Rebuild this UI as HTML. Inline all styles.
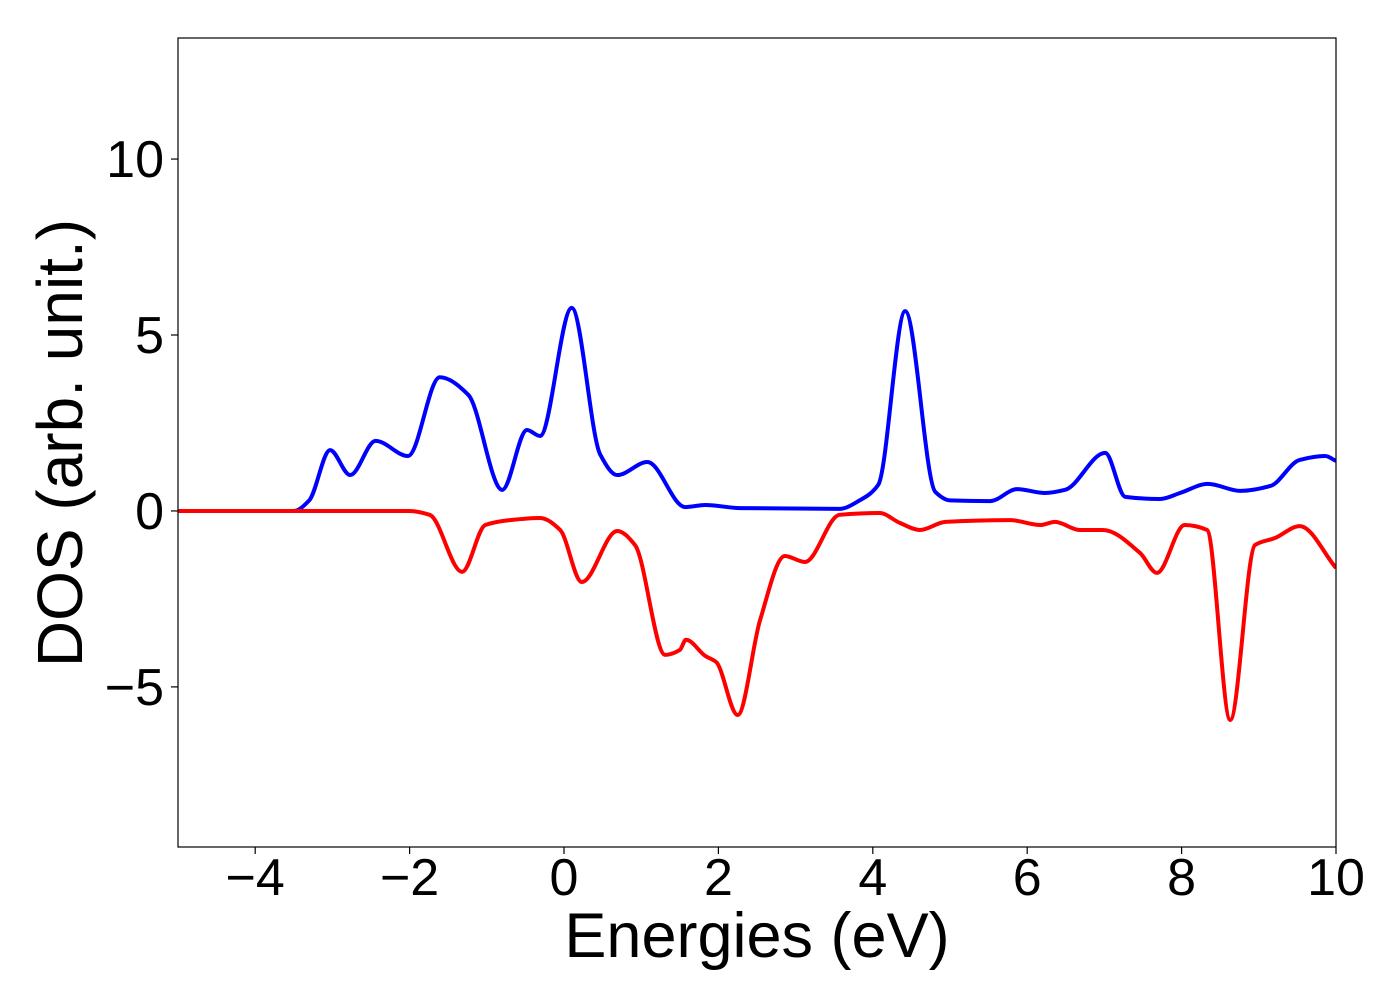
<!DOCTYPE html>
<html><head><meta charset="utf-8"><style>
body{margin:0;background:#fff}
svg text{font-family:"Liberation Sans","DejaVu Sans",sans-serif;fill:#000}
</style></head><body>
<svg id="chart" width="1400" height="1000" viewBox="0 0 1400 1000" xmlns="http://www.w3.org/2000/svg">
<rect width="1400" height="1000" fill="#fff"/>
<g id="plot"></g>
<g id="axes"></g>
<text x="757" y="957" font-size="63" text-anchor="middle">Energies (eV)</text>
<text transform="translate(82,443) rotate(-90)" font-size="64" text-anchor="middle">DOS (arb. unit.)</text>
</svg>
<script>
const xTicks=[-4,-2,0,2,4,6,8,10];
const yTicks=[-5,0,5,10];
const upX=[-5,-3.5,-3.3,-3.03,-2.77,-2.44,-2.02,-1.61,-1.24,-0.8,-0.48,-0.31,0.1,0.47,0.69,1.08,1.57,1.83,2.28,3.57,3.83,4.07,4.42,4.81,5.0,5.52,5.87,6.23,6.49,7.01,7.27,7.72,7.98,8.34,8.76,9.15,9.53,9.86,10];
const upY=[0,0,0.3,1.73,1.02,1.99,1.56,3.8,3.3,0.6,2.3,2.13,5.77,1.6,1.02,1.39,0.11,0.17,0.08,0.06,0.3,0.74,5.68,0.54,0.3,0.28,0.62,0.51,0.6,1.65,0.4,0.34,0.51,0.77,0.57,0.71,1.45,1.56,1.42];
const dnX=[-5,-2.0,-1.74,-1.32,-1.02,-0.7,-0.31,-0.05,0.23,0.69,0.92,1.31,1.5,1.58,1.83,1.97,2.25,2.54,2.86,3.12,3.57,4.09,4.35,4.61,4.94,5.78,6.17,6.36,6.68,6.98,7.46,7.68,8.04,8.33,8.63,8.95,9.21,9.53,10];
const dnY=[0,0,-0.11,-1.73,-0.4,-0.26,-0.2,-0.54,-2.02,-0.57,-0.97,-4.09,-3.95,-3.66,-4.12,-4.29,-5.8,-3.1,-1.28,-1.45,-0.11,-0.06,-0.34,-0.54,-0.31,-0.26,-0.4,-0.31,-0.54,-0.54,-1.19,-1.76,-0.4,-0.54,-5.94,-0.97,-0.77,-0.43,-1.62];
const L=178,R=1336,T=38,B=847,xmin=-5,xmax=10,ymin=-9.55,ymax=13.44;
const sx=v=>L+(v-xmin)/(xmax-xmin)*(R-L);
const sy=v=>B-(v-ymin)/(ymax-ymin)*(B-T);
const NS="http://www.w3.org/2000/svg";
function pathFor(xs,ys){
  const n=xs.length,d=[],m=[];
  for(let i=0;i<n-1;i++)d.push((ys[i+1]-ys[i])/(xs[i+1]-xs[i]));
  for(let i=0;i<n;i++){
    if(i===0)m.push(d[0]);else if(i===n-1)m.push(d[n-2]);
    else if(d[i-1]*d[i]<=0)m.push(0);
    else{const h0=xs[i]-xs[i-1],h1=xs[i+1]-xs[i];const w1=2*h1+h0,w2=h1+2*h0;m.push((w1+w2)/(w1/d[i-1]+w2/d[i]));}
  }
  let s="M"+sx(xs[0])+","+sy(ys[0]);
  for(let i=0;i<n-1;i++){
    const h=xs[i+1]-xs[i];
    const c1x=xs[i]+h/3,c1y=ys[i]+m[i]*h/3,c2x=xs[i+1]-h/3,c2y=ys[i+1]-m[i+1]*h/3;
    s+=" C"+sx(c1x)+","+sy(c1y)+" "+sx(c2x)+","+sy(c2y)+" "+sx(xs[i+1])+","+sy(ys[i+1]);
  }
  return s;
}
const plot=document.getElementById('plot');
const clip=document.createElementNS(NS,'clipPath');clip.setAttribute('id','cp');
const cr=document.createElementNS(NS,'rect');cr.setAttribute('x',L);cr.setAttribute('y',T);cr.setAttribute('width',R-L);cr.setAttribute('height',B-T);
clip.appendChild(cr);plot.appendChild(clip);
[[upX,upY,'#0000ff','spin-up-line'],[dnX,dnY,'#ff0000','spin-down-line']].forEach(s=>{
  const el=document.createElementNS(NS,'path');
  el.setAttribute('d',pathFor(s[0],s[1]));
  el.setAttribute('fill','none');el.setAttribute('stroke',s[2]);el.setAttribute('stroke-width','4');
  el.setAttribute('stroke-linejoin','round');
  el.setAttribute('clip-path','url(#cp)');
  
  
  plot.appendChild(el);
});
const axes=document.getElementById('axes');
const frame=document.createElementNS(NS,'rect');
frame.setAttribute('x',L);frame.setAttribute('y',T);frame.setAttribute('width',R-L);frame.setAttribute('height',B-T);
frame.setAttribute('fill','none');frame.setAttribute('stroke','#000');frame.setAttribute('stroke-width','1.2');


axes.appendChild(frame);
xTicks.forEach(v=>{
  const t=document.createElementNS(NS,'line');
  t.setAttribute('x1',sx(v));t.setAttribute('x2',sx(v));t.setAttribute('y1',B);t.setAttribute('y2',B+7);t.setAttribute('stroke','#000');t.setAttribute('stroke-width','1.2');
  
  
  axes.appendChild(t);
  const tx=document.createElementNS(NS,'text');
  tx.setAttribute('x',sx(v));tx.setAttribute('y',895);tx.setAttribute('font-size','52');tx.setAttribute('text-anchor','middle');
  tx.textContent=v<0?'\u2212'+Math.abs(v):String(v);
  
  
  axes.appendChild(tx);
});
yTicks.forEach(v=>{
  const t=document.createElementNS(NS,'line');
  t.setAttribute('x1',L-7);t.setAttribute('x2',L);t.setAttribute('y1',sy(v));t.setAttribute('y2',sy(v));t.setAttribute('stroke','#000');t.setAttribute('stroke-width','1.2');
  
  
  axes.appendChild(t);
  const tx=document.createElementNS(NS,'text');
  tx.setAttribute('x',164);tx.setAttribute('y',sy(v)+18);tx.setAttribute('font-size','52');tx.setAttribute('text-anchor','end');
  tx.textContent=v<0?'\u2212'+Math.abs(v):String(v);
  
  
  axes.appendChild(tx);
});
</script>
</body></html>
